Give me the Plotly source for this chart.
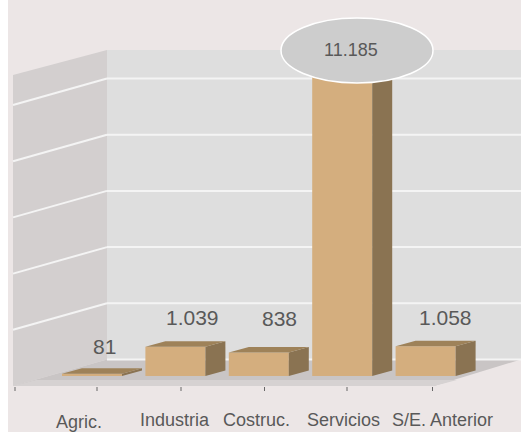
import plotly.graph_objects as go

# Data
categories = ["Agric.", "Industria", "Costruc.", "Servicios", "S/E. Anterior"]
values = [81, 1039, 838, 11185, 1058]
value_labels = ["81", "1.039", "838", "11.185", "1.058"]
grid_values = [0, 2000, 4000, 6000, 8000, 10000]

W, H = 521, 432
X0, XS = 92.0, 83.4      # pixel of category 0, pixels per category
Y0, YS = 376.0, 0.0281   # pixel of value 0, pixels per unit


def dx(px):
    return px / XS


def dv(px):
    return px / YS


xr = [(0 - X0) / XS, (W - X0) / XS]
yr = [(Y0 - H) / YS, Y0 / YS]
bar_w = 60 / XS
DX, DV = dx(20), dv(5.5)
BACK_DV = dv(16.5)       # back wall offset vs bar base
FRONT_DV = dv(-10)       # front floor edge vs bar base
WALL_X = xr[0] + dx(107)
FRONT_X = xr[0] + dx(13)
TOP_V = dv(Y0 - 50)
TOP_FRONT_V = dv(Y0 - 75)

BG = "#ECE6E6"
BACK = "#DEDEDE"
SIDE_WALL = "#D3CFCF"
FLOOR = "#C9C5C5"
FLOOR2 = "#D6D2D2"
FRONT = "#D4AE7E"
SIDE = "#8A7352"
TOP = "#9E8259"
TXT = "#595959"
FONT = "Liberation Sans"


def poly(pts, color, layer="below"):
    path = "M " + " L ".join(f"{x},{y}" for x, y in pts) + " Z"
    return dict(type="path", path=path, xref="x", yref="y", fillcolor=color,
                line=dict(width=0), layer=layer)


shapes = [
    dict(type="rect", xref="paper", yref="paper", x0=0, x1=8 / W, y0=0, y1=1,
         fillcolor="white", line=dict(width=0), layer="below"),
    poly([(WALL_X, BACK_DV), (WALL_X, TOP_V), (xr[1], TOP_V), (xr[1], BACK_DV)], BACK),
    poly([(FRONT_X, FRONT_DV), (FRONT_X, TOP_FRONT_V), (WALL_X, TOP_V), (WALL_X, BACK_DV)], SIDE_WALL),
    poly([(FRONT_X, FRONT_DV), (WALL_X, BACK_DV), (xr[1], BACK_DV), (xr[0] + dx(434), FRONT_DV)], FLOOR),
    poly([(FRONT_X, FRONT_DV), (FRONT_X + dx(23), FRONT_DV + dv(6)), (xr[0] + dx(457), FRONT_DV + dv(6)), (xr[0] + dx(434), FRONT_DV)], FLOOR2),
]

for g in grid_values:
    yy = BACK_DV + g
    shapes.append(dict(type="line", xref="x", yref="y", x0=WALL_X, x1=xr[1], y0=yy, y1=yy,
                       line=dict(color="#F4F4F4", width=2), layer="below"))
    if g > 0:
        shapes.append(dict(type="line", xref="x", yref="y", x0=FRONT_X, x1=WALL_X,
                           y0=FRONT_DV + g, y1=BACK_DV + g,
                           line=dict(color="#F4F4F4", width=2), layer="below"))

for p in [15, 97, 181, 264.5, 347, 432.5]:
    xt = xr[0] + dx(p)
    shapes.append(dict(type="line", xref="x", yref="y", x0=xt, x1=xt,
                       y0=FRONT_DV - dv(1), y1=FRONT_DV - dv(5),
                       line=dict(color="#666666", width=1), layer="below"))

fig = go.Figure()
fig.add_trace(go.Bar(x=list(range(len(values))), y=values, width=bar_w,
                     marker=dict(color=FRONT, line=dict(width=0)), hoverinfo="skip"))

for i, v in enumerate(values):
    l, r = i - bar_w / 2, i + bar_w / 2
    fig.add_trace(go.Scatter(x=[r, r + DX, r + DX, r, r], y=[0, DV, v + DV, v, 0],
                             fill="toself", fillcolor=SIDE, mode="none", hoverinfo="skip"))
    fig.add_trace(go.Scatter(x=[l, l + DX, r + DX, r, l], y=[v, v + DV, v + DV, v, v],
                             fill="toself", fillcolor=TOP, mode="none", hoverinfo="skip"))

shapes.append(dict(type="circle", xref="paper", yref="paper",
                   x0=281 / W, x1=433 / W, y0=1 - 83 / H, y1=1 - 18 / H,
                   fillcolor="#CDCDCD", line=dict(color="white", width=1.5), layer="above"))

label_shift = [(12, 27), (17, 29), (21, 34), (15, 0), (20, 29)]
annotations = []
for i, (v, t, (sx, sy)) in enumerate(zip(values, value_labels, label_shift)):
    if i == 3:
        annotations.append(dict(x=351 / W, y=1 - 50 / H, xref="paper", yref="paper", text=t,
                                xanchor="center", yanchor="middle", showarrow=False,
                                font=dict(family=FONT, size=18, color=TXT)))
    else:
        annotations.append(dict(x=i, y=v, xref="x", yref="y", text=t, xshift=sx, yshift=sy,
                                xanchor="center", yanchor="middle", showarrow=False,
                                font=dict(family=FONT, size=21, color=TXT)))

cat_pos = [(79, 422), (175, 420), (256, 420), (343, 420), (442, 420)]
for c, (px, py) in zip(categories, cat_pos):
    annotations.append(dict(x=px / W, y=1 - py / H, xref="paper", yref="paper", text=c,
                            xanchor="center", yanchor="middle", showarrow=False,
                            font=dict(family=FONT, size=18, color=TXT)))

fig.update_layout(
    width=W, height=H, margin=dict(l=0, r=0, t=0, b=0), autosize=False,
    paper_bgcolor=BG, plot_bgcolor=BG, showlegend=False, barmode="overlay",
    xaxis=dict(range=xr, visible=False, fixedrange=True),
    yaxis=dict(range=yr, visible=False, fixedrange=True),
    shapes=shapes, annotations=annotations,
)
fig.write_html("out.html", config={"displayModeBar": False},
               post_script="document.body.style.margin='0';")
